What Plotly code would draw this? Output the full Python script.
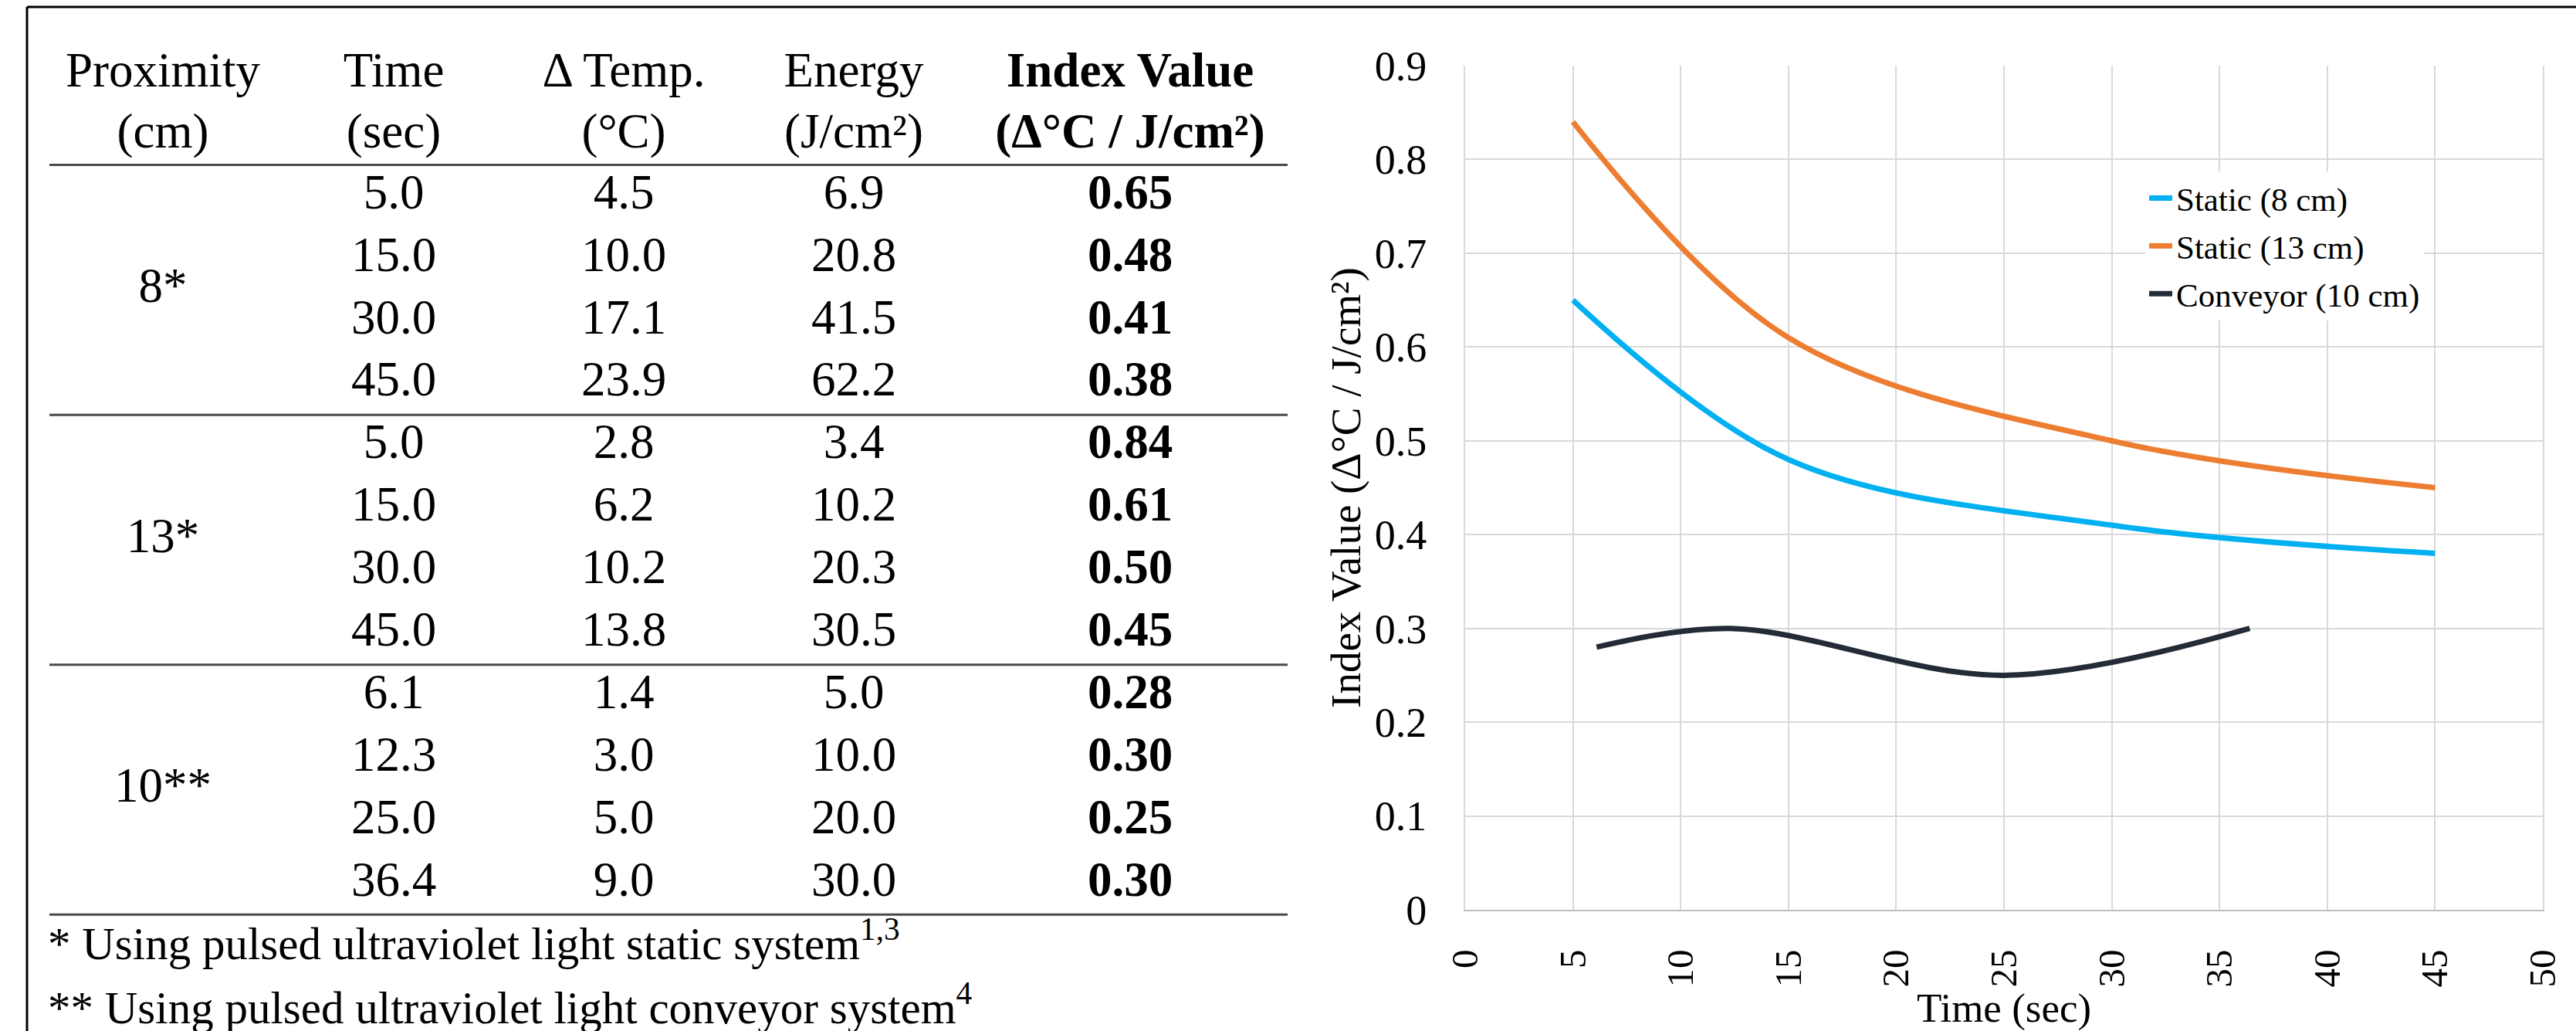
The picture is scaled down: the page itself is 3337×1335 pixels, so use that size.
import plotly.graph_objects as go

# ---- data -------------------------------------------------------------
proximity_labels = ["8*", "13*", "10**"]
series_names = ["Static (8 cm)", "Static (13 cm)", "Conveyor (10 cm)"]
time_sec = [5.0, 15.0, 30.0, 45.0, 5.0, 15.0, 30.0, 45.0, 6.1, 12.3, 25.0, 36.4]
delta_temp = [4.5, 10.0, 17.1, 23.9, 2.8, 6.2, 10.2, 13.8, 1.4, 3.0, 5.0, 9.0]
energy = [6.9, 20.8, 41.5, 62.2, 3.4, 10.2, 20.3, 30.5, 5.0, 10.0, 20.0, 30.0]
index_value = [0.65, 0.48, 0.41, 0.38, 0.84, 0.61, 0.50, 0.45, 0.28, 0.30, 0.25, 0.30]

header_top = ["Proximity", "Time", "Δ Temp.", "Energy", "<b>Index Value</b>"]
header_bottom = ["(cm)", "(sec)", "(°C)", "(J/cm²)", "<b>(Δ°C / J/cm²)</b>"]
footnotes = [
    "* Using pulsed ultraviolet light static system<sup>1,3</sup>",
    "** Using pulsed ultraviolet light conveyor system<sup>4</sup>",
]
x_ticks = list(range(0, 55, 5))
y_ticks = [round(0.1 * i, 1) for i in range(10)]

# ---- styling / layout constants ---------------------------------------
W, H = 3337, 1335
SERIF = "Liberation Serif, Times New Roman, serif"
line_colors = ["#00B0F0", "#ED7D31", "#232B38"]
ROWS_PER_GROUP = 4

# table geometry (table axes use pixel-like x units and row-index y units)
col_x = [211, 510, 808, 1106, 1464]
ROW0_PX, ROW_PITCH = 254, 80.9
row_top = -ROW0_PX / ROW_PITCH
row_bottom = (H - ROW0_PX) / ROW_PITCH
HEADER_ROWS = [-1.953, -0.97]
FOOT_ROWS = [12.03, 13.05]
RULE_X0, RULE_X1 = 64, 1668
FOOT_X = 62
TABLE_FONT = 63
FOOT_FONT = 59

fig = go.Figure()

# ---- table drawn as text on its own hidden axes -------------------------
n_rows = len(time_sec)
rows = list(range(n_rows))
table_cols = [
    [f"{v:.1f}" for v in time_sec],
    [f"{v:.1f}" for v in delta_temp],
    [f"{v:.1f}" for v in energy],
    [f"<b>{v:.2f}</b>" for v in index_value],
]
for ci, texts in enumerate(table_cols, start=1):
    fig.add_trace(go.Scatter(
        x=[col_x[ci]] * n_rows, y=rows, text=texts, mode="text",
        textposition="middle center",
        textfont=dict(family=SERIF, size=TABLE_FONT, color="black"),
        xaxis="x2", yaxis="y2", showlegend=False, hoverinfo="skip",
    ))

# group labels centred on their block of rows
group_rows = [g * ROWS_PER_GROUP + (ROWS_PER_GROUP - 1) / 2 for g in range(len(proximity_labels))]
fig.add_trace(go.Scatter(
    x=[col_x[0]] * len(proximity_labels), y=group_rows, text=proximity_labels,
    mode="text", textposition="middle center",
    textfont=dict(family=SERIF, size=TABLE_FONT, color="black"),
    xaxis="x2", yaxis="y2", showlegend=False, hoverinfo="skip",
))

# two header lines
for hr, labels in zip(HEADER_ROWS, [header_top, header_bottom]):
    fig.add_trace(go.Scatter(
        x=col_x, y=[hr] * len(labels), text=labels, mode="text",
        textposition="middle center",
        textfont=dict(family=SERIF, size=TABLE_FONT, color="black"),
        xaxis="x2", yaxis="y2", showlegend=False, hoverinfo="skip",
    ))

# footnotes
fig.add_trace(go.Scatter(
    x=[FOOT_X] * len(footnotes), y=FOOT_ROWS, text=footnotes, mode="text",
    textposition="middle right",
    textfont=dict(family=SERIF, size=FOOT_FONT, color="black"),
    xaxis="x2", yaxis="y2", showlegend=False, hoverinfo="skip",
))

# horizontal rules: under header, between groups, under last row
rule_rows = [-0.5] + [g * ROWS_PER_GROUP + ROWS_PER_GROUP - 0.5 for g in range(len(proximity_labels))]
shapes = []
for rr in rule_rows:
    shapes.append(dict(type="line", xref="x2", yref="y2", x0=RULE_X0, x1=RULE_X1,
                       y0=rr, y1=rr, line=dict(color="#4A4A4A", width=3)))

# outer frame (top and left edges)
FRAME_X, FRAME_Y = 35, 9
shapes.append(dict(type="line", xref="paper", yref="paper", x0=FRAME_X / W, x1=1,
                   y0=1 - FRAME_Y / H, y1=1 - FRAME_Y / H, line=dict(color="black", width=3)))
shapes.append(dict(type="line", xref="paper", yref="paper", x0=FRAME_X / W, x1=FRAME_X / W,
                   y0=0, y1=1 - FRAME_Y / H, line=dict(color="black", width=3)))

# ---- line chart ---------------------------------------------------------
for g, name in enumerate(series_names):
    sl = slice(g * ROWS_PER_GROUP, (g + 1) * ROWS_PER_GROUP)
    fig.add_trace(go.Scatter(
        x=time_sec[sl], y=index_value[sl], mode="lines", name=name,
        line=dict(color=line_colors[g], width=7, shape="spline", smoothing=1.0),
        legendgroup=name, xaxis="x", yaxis="y",
    ))

PLOT_L, PLOT_R, PLOT_T, PLOT_B = 1898, 3294, 85, 1178

fig.update_layout(
    width=W, height=H, autosize=False,
    margin=dict(l=0, r=0, t=0, b=0, pad=0),
    paper_bgcolor="white", plot_bgcolor="rgba(0,0,0,0)",
    font=dict(family=SERIF, color="black"),
    shapes=shapes,
    xaxis=dict(
        domain=[PLOT_L / W, PLOT_R / W], range=[0, 50], tickvals=x_ticks,
        tickangle=-90, tickfont=dict(family=SERIF, size=49, color="black"),
        showgrid=True, gridcolor="#D9D9D9", gridwidth=2,
        showline=True, linecolor="#BFBFBF", linewidth=2, mirror=False,
        zeroline=False, ticks="", ticklabelstandoff=30, automargin=False,
        title=dict(text="Time (sec)", font=dict(family=SERIF, size=53, color="black"), standoff=42),
        anchor="y", fixedrange=True,
    ),
    yaxis=dict(
        domain=[(H - PLOT_B) / H, (H - PLOT_T) / H], range=[0, 0.9], tickvals=y_ticks,
        tickfont=dict(family=SERIF, size=54, color="black"),
        showgrid=True, gridcolor="#D9D9D9", gridwidth=2,
        showline=True, linecolor="#D9D9D9", linewidth=2, mirror=True,
        zeroline=False, ticks="", ticklabelstandoff=37, automargin=False,
        title=dict(text="Index Value (Δ°C / J/cm²)", font=dict(family=SERIF, size=55, color="black"), standoff=0),
        anchor="x", fixedrange=True,
    ),
    xaxis2=dict(domain=[0, 1], range=[0, W], visible=False, anchor="y2", fixedrange=True),
    yaxis2=dict(domain=[0, 1], range=[row_bottom, row_top], visible=False, anchor="x2", fixedrange=True),
    legend=dict(
        x=2779 / W, y=1 - 222 / H, xanchor="left", yanchor="top",
        bgcolor="white", borderwidth=0, tracegroupgap=3,
        font=dict(family=SERIF, size=43, color="black"),
    ),
    showlegend=True,
)

fig.write_html("out.html", config={"displayModeBar": False})
